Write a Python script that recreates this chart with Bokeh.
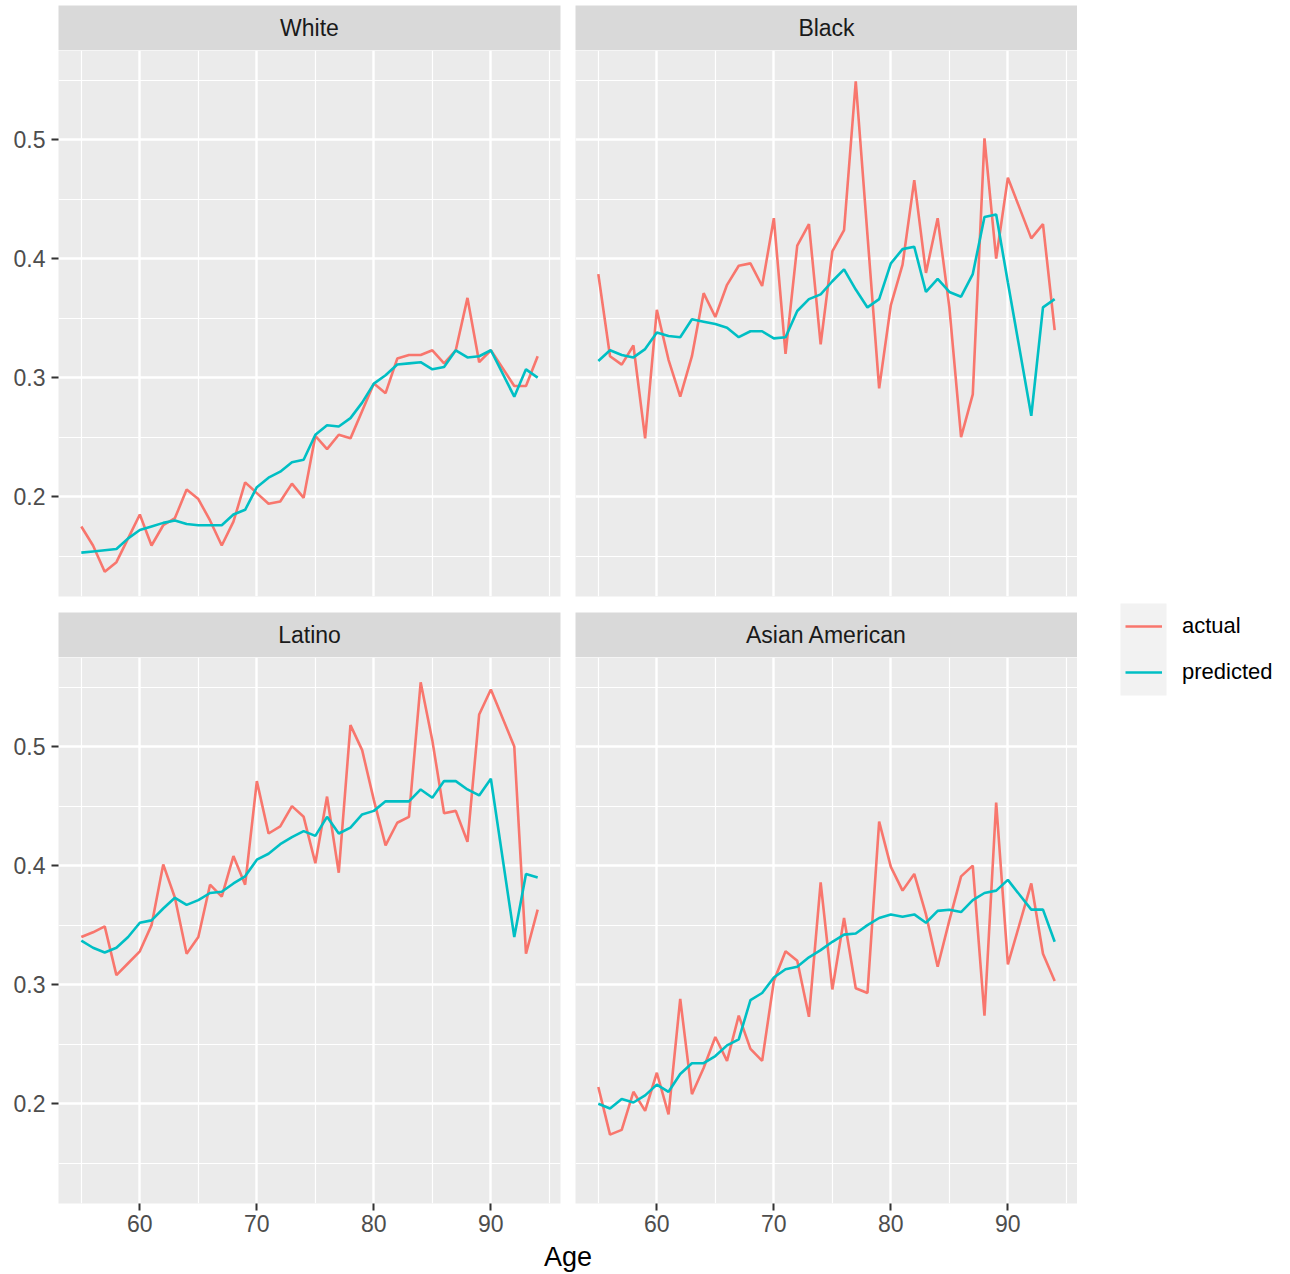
import numpy as np
from bokeh.plotting import figure
from bokeh.models import (Range1d, FixedTicker, Label, Legend, LegendItem,
                          BoxAnnotation, ColumnDataSource)
from bokeh.layouts import row, column
from bokeh.embed import file_html
from bokeh.resources import INLINE

# ---------------- data ----------------
ages = [55, 56, 57, 58, 59, 60, 61, 62, 63, 64, 65, 66, 67, 68, 69, 70, 71, 72, 73, 74,
        75, 76, 77, 78, 79, 80, 81, 82, 83, 84, 85, 86, 87, 88, 89, 90, 92, 93, 94]

white_actual = [0.175, 0.159, 0.137, 0.145, 0.165, 0.185, 0.159, 0.176, 0.182, 0.206,
                0.198, 0.180, 0.159, 0.179, 0.212, 0.203, 0.194, 0.196, 0.211, 0.199,
                0.251, 0.240, 0.252, 0.249, 0.272, 0.295, 0.287, 0.316, 0.319, 0.319,
                0.323, 0.312, 0.323, 0.367, 0.313, 0.323, 0.293, 0.293, 0.318]
white_predicted = [0.153, 0.154, 0.155, 0.156, 0.165, 0.172, 0.175, 0.178, 0.180, 0.177,
                   0.176, 0.176, 0.176, 0.185, 0.189, 0.208, 0.216, 0.221, 0.229, 0.231,
                   0.252, 0.260, 0.259, 0.266, 0.279, 0.295, 0.302, 0.311, 0.312, 0.313,
                   0.307, 0.309, 0.323, 0.317, 0.318, 0.323, 0.284, 0.307, 0.300]

black_actual = [0.387, 0.318, 0.311, 0.327, 0.249, 0.357, 0.315, 0.284, 0.318, 0.371,
                0.351, 0.378, 0.394, 0.396, 0.377, 0.434, 0.320, 0.411, 0.429, 0.328,
                0.406, 0.424, 0.549, 0.420, 0.291, 0.361, 0.395, 0.466, 0.388, 0.434,
                0.359, 0.250, 0.286, 0.501, 0.400, 0.468, 0.417, 0.429, 0.340]
black_predicted = [0.314, 0.323, 0.319, 0.317, 0.324, 0.338, 0.335, 0.334, 0.349, 0.347,
                   0.345, 0.342, 0.334, 0.339, 0.339, 0.333, 0.334, 0.356, 0.366, 0.370,
                   0.381, 0.391, 0.374, 0.359, 0.366, 0.396, 0.408, 0.410, 0.372, 0.383,
                   0.372, 0.368, 0.387, 0.435, 0.437, 0.380, 0.268, 0.359, 0.366]

latino_actual = [0.340, 0.344, 0.349, 0.308, 0.318, 0.328, 0.350, 0.401, 0.373, 0.326,
                 0.340, 0.384, 0.374, 0.408, 0.384, 0.471, 0.427, 0.433, 0.450, 0.441,
                 0.402, 0.458, 0.394, 0.518, 0.497, 0.455, 0.417, 0.436, 0.441, 0.554,
                 0.505, 0.444, 0.446, 0.420, 0.527, 0.548, 0.500, 0.326, 0.363]
latino_predicted = [0.337, 0.331, 0.327, 0.331, 0.340, 0.352, 0.354, 0.364, 0.373, 0.367,
                    0.371, 0.377, 0.378, 0.385, 0.391, 0.405, 0.410, 0.418, 0.424, 0.429,
                    0.425, 0.441, 0.427, 0.432, 0.443, 0.446, 0.454, 0.454, 0.454, 0.464,
                    0.457, 0.471, 0.471, 0.464, 0.459, 0.473, 0.340, 0.393, 0.390]

asian_actual = [0.214, 0.174, 0.178, 0.210, 0.194, 0.226, 0.191, 0.288, 0.208, 0.230,
                0.256, 0.236, 0.274, 0.246, 0.236, 0.303, 0.328, 0.320, 0.273, 0.386,
                0.296, 0.356, 0.297, 0.293, 0.437, 0.399, 0.379, 0.393, 0.359, 0.315,
                0.354, 0.391, 0.400, 0.274, 0.453, 0.317, 0.385, 0.326, 0.303]
asian_predicted = [0.200, 0.196, 0.204, 0.201, 0.207, 0.216, 0.210, 0.225, 0.234, 0.234,
                   0.240, 0.249, 0.254, 0.287, 0.293, 0.306, 0.313, 0.315, 0.323, 0.329,
                   0.336, 0.342, 0.343, 0.350, 0.356, 0.359, 0.357, 0.359, 0.352, 0.362,
                   0.363, 0.361, 0.371, 0.377, 0.379, 0.388, 0.363, 0.363, 0.336]

panel_names = ["White", "Black", "Latino", "Asian American"]
series_names = ["actual", "predicted"]
x_ticks = [60, 70, 80, 90]
x_minor = [55, 65, 75, 85, 95]
y_ticks = [0.2, 0.3, 0.4, 0.5]
y_minor = [0.15, 0.25, 0.35, 0.45, 0.55]
x_title = "Age"

# ---------------- style ----------------
C_ACT = "#F8766D"
C_PRED = "#00BFC4"
FONT = "Liberation Sans"
PANEL_BG = "#ebebeb"
STRIP_BG = "#d9d9d9"
FW, FH = 502, 546
GAP_X, GAP_Y = 15, 16
LEFT_B = 58
TOP_B = 5
BOTTOM_B = 37
STRIP_H = 45
AGE_H = 33
LW = 2.6
LEG_W = 1274 - (LEFT_B + 2 * FW + GAP_X)

all_vals = np.array(white_actual + white_predicted + black_actual + black_predicted +
                    latino_actual + latino_predicted + asian_actual + asian_predicted)
lo, hi = all_vals.min(), all_vals.max()
pad = 0.05 * (hi - lo)
yr = Range1d(lo - pad, hi + pad)
xlo, xhi = min(ages), max(ages)
xpad = 0.05 * (xhi - xlo)
xr = Range1d(xlo - xpad, xhi + xpad)


def make_panel(actual, predicted, left_axis, bottom_axis, lb, rb, bb):
    p = figure(frame_width=FW, frame_height=FH, x_range=xr, y_range=yr,
               x_axis_location="below" if bottom_axis else None,
               y_axis_location="left" if left_axis else None,
               toolbar_location=None, output_backend="svg",
               min_border_left=lb, min_border_right=rb, min_border_top=0,
               min_border_bottom=bb,
               background_fill_color=PANEL_BG, border_fill_color="white",
               outline_line_color=None)
    p.xgrid.ticker = FixedTicker(ticks=x_ticks, minor_ticks=x_minor)
    p.ygrid.ticker = FixedTicker(ticks=y_ticks, minor_ticks=y_minor)
    for g in (p.xgrid, p.ygrid):
        g.grid_line_color = "white"
        g.grid_line_width = 2.4
        g.minor_grid_line_color = "white"
        g.minor_grid_line_width = 1.2
    axes = []
    if bottom_axis:
        p.xaxis.ticker = FixedTicker(ticks=x_ticks)
        axes.append(p.xaxis)
    if left_axis:
        p.yaxis.ticker = FixedTicker(ticks=y_ticks)
        axes.append(p.yaxis)
    for ax in axes:
        ax.axis_line_color = None
        ax.major_tick_line_color = "#333333"
        ax.major_tick_line_width = 2
        ax.major_tick_in = 0
        ax.major_tick_out = 7
        ax.minor_tick_line_color = None
        ax.major_label_text_font = FONT
        ax.major_label_text_font_size = "23px"
        ax.major_label_text_color = "#4d4d4d"
    if bottom_axis:
        p.xaxis.major_label_standoff = 4
    if left_axis:
        p.yaxis.major_label_standoff = 6
    src = ColumnDataSource(dict(age=ages, actual=actual, predicted=predicted))
    p.line("age", "actual", source=src, line_color=C_ACT, line_width=LW)
    p.line("age", "predicted", source=src, line_color=C_PRED, line_width=LW)
    return p


def make_strip(text, h, lb, rb, tb):
    s = figure(frame_width=FW, frame_height=h, x_range=Range1d(0, 1), y_range=Range1d(0, 1),
               x_axis_location=None, y_axis_location=None,
               toolbar_location=None, output_backend="svg",
               min_border_left=lb, min_border_right=rb, min_border_top=tb, min_border_bottom=0,
               background_fill_color=STRIP_BG, border_fill_color="white",
               outline_line_color=None)
    s.grid.visible = False
    s.add_layout(Label(x=0.5, y=0.5, text=text, text_align="center", text_baseline="middle",
                       text_font=FONT, text_font_size="23px", text_color="#1a1a1a"))
    return s


s_tl = make_strip(panel_names[0], STRIP_H, LEFT_B, GAP_X, TOP_B)
s_tr = make_strip(panel_names[1], STRIP_H, 0, 0, TOP_B)
p_tl = make_panel(white_actual, white_predicted, True, False, LEFT_B, GAP_X, GAP_Y)
p_tr = make_panel(black_actual, black_predicted, False, False, 0, 0, GAP_Y)
s_bl = make_strip(panel_names[2], STRIP_H, LEFT_B, GAP_X, 0)
s_br = make_strip(panel_names[3], STRIP_H, 0, 0, 0)
p_bl = make_panel(latino_actual, latino_predicted, True, True, LEFT_B, GAP_X, BOTTOM_B)
p_br = make_panel(asian_actual, asian_predicted, False, True, 0, 0, BOTTOM_B)

# x-axis title spanning both columns
af = figure(frame_width=FW * 2 + GAP_X, frame_height=AGE_H, x_range=Range1d(0, 1),
            y_range=Range1d(0, 1), x_axis_location=None, y_axis_location=None,
            toolbar_location=None, output_backend="svg",
            min_border_left=LEFT_B, min_border_right=0, min_border_top=0, min_border_bottom=0,
            background_fill_color="white", border_fill_color="white", outline_line_color=None)
af.grid.visible = False
af.add_layout(Label(x=0.5, y=0.5, text=x_title, text_align="center", text_baseline="middle",
                    text_font=FONT, text_font_size="27px", text_color="black"))

# legend column (pixel-space figure)
TOTAL_H = TOP_B + STRIP_H + FH + GAP_Y + STRIP_H + FH + BOTTOM_B + AGE_H
lf = figure(frame_width=LEG_W, frame_height=TOTAL_H, x_range=Range1d(0, LEG_W),
            y_range=Range1d(TOTAL_H, 0), x_axis_location=None, y_axis_location=None,
            toolbar_location=None, output_backend="svg",
            min_border_left=0, min_border_right=0, min_border_top=0, min_border_bottom=0,
            background_fill_color="white", border_fill_color="white", outline_line_color=None)
lf.grid.visible = False
KEY_TOP, KEY_H = 603, 46
lf.add_layout(BoxAnnotation(left=43, right=89, top=KEY_TOP, bottom=KEY_TOP + 2 * KEY_H,
                            fill_color="#f2f2f2", fill_alpha=1, line_color=None))
r_act = lf.line(x=[np.nan], y=[np.nan], line_color=C_ACT, line_width=LW)
r_pred = lf.line(x=[np.nan], y=[np.nan], line_color=C_PRED, line_width=LW)
legend = Legend(items=[LegendItem(label=series_names[0], renderers=[r_act]),
                       LegendItem(label=series_names[1], renderers=[r_pred])],
                location=(48, TOTAL_H - KEY_TOP - 2 * KEY_H), orientation="vertical",
                glyph_width=37, glyph_height=KEY_H, spacing=0, padding=0, margin=0,
                label_standoff=20, label_text_font=FONT, label_text_font_size="22px",
                label_text_color="black", background_fill_alpha=0, border_line_color=None)
lf.add_layout(legend)

left_col = column(row(s_tl, s_tr), row(p_tl, p_tr), row(s_bl, s_br), row(p_bl, p_br), af)
layout = row(left_col, lf)

open("out.html", "w").write(file_html(layout, INLINE))
